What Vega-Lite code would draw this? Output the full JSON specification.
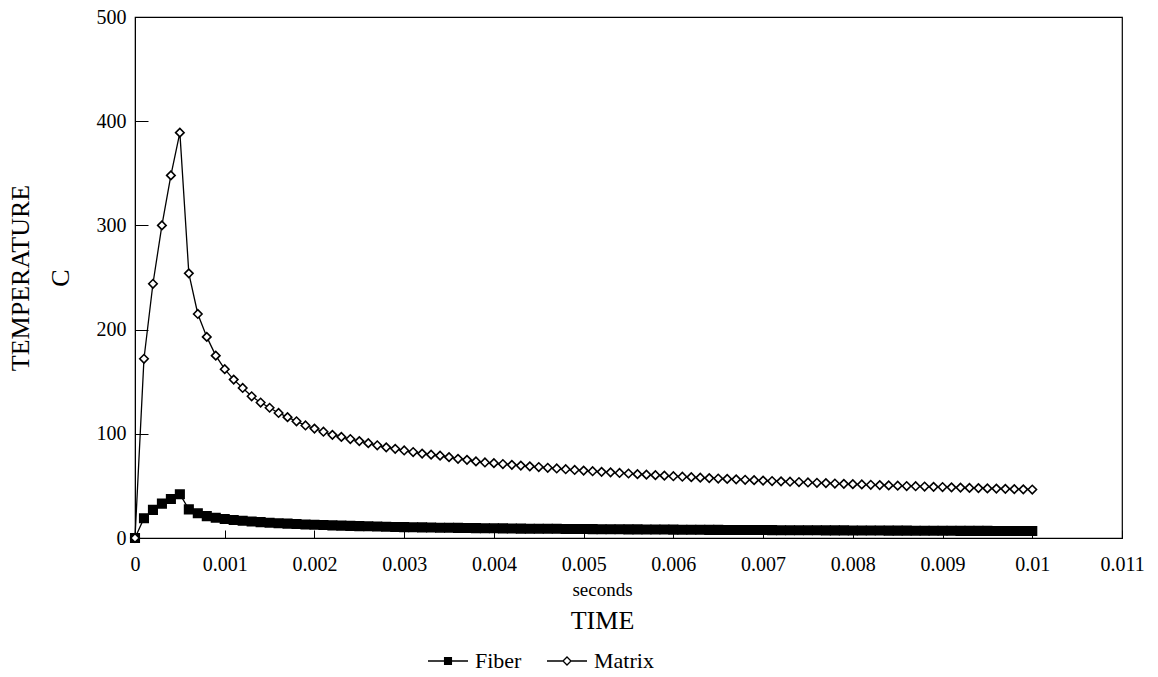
{
  "$schema": "https://vega.github.io/schema/vega-lite/v6.json",
  "width": 987,
  "height": 521,
  "autosize": {"type": "none"},
  "padding": {"left": 135, "top": 17, "right": 36, "bottom": 139},
  "background": "white",
  "config": {
    "view": {"stroke": "black", "strokeWidth": 1.2},
    "font": "Liberation Serif",
    "axis": {
      "labelFont": "Liberation Serif", "titleFont": "Liberation Serif",
      "labelColor": "black", "titleColor": "black",
      "domainColor": "black", "tickColor": "black",
      "titleFontWeight": "normal", "grid": false
    }
  },
  "data": {"values": [
    {"t":0,"Fiber":0,"Matrix":0},
    {"t":0.0001,"Fiber":19,"Matrix":172},
    {"t":0.0002,"Fiber":27,"Matrix":244},
    {"t":0.0003,"Fiber":33,"Matrix":300},
    {"t":0.0004,"Fiber":37.5,"Matrix":348},
    {"t":0.0005,"Fiber":42,"Matrix":389},
    {"t":0.0006,"Fiber":27.5,"Matrix":254},
    {"t":0.0007,"Fiber":23.7,"Matrix":215},
    {"t":0.0008,"Fiber":21,"Matrix":193},
    {"t":0.0009,"Fiber":19.5,"Matrix":175},
    {"t":0.001,"Fiber":18.3,"Matrix":162},
    {"t":0.0011,"Fiber":17.3,"Matrix":152},
    {"t":0.0012,"Fiber":16.5,"Matrix":144},
    {"t":0.0013,"Fiber":15.8,"Matrix":136},
    {"t":0.0014,"Fiber":15.2,"Matrix":130},
    {"t":0.0015,"Fiber":14.7,"Matrix":125},
    {"t":0.0016,"Fiber":14.2,"Matrix":120},
    {"t":0.0017,"Fiber":13.8,"Matrix":116},
    {"t":0.0018,"Fiber":13.4,"Matrix":112},
    {"t":0.0019,"Fiber":13.0,"Matrix":108},
    {"t":0.002,"Fiber":12.7,"Matrix":105},
    {"t":0.0021,"Fiber":12.4,"Matrix":102},
    {"t":0.0022,"Fiber":12.1,"Matrix":99},
    {"t":0.0023,"Fiber":11.9,"Matrix":97},
    {"t":0.0024,"Fiber":11.6,"Matrix":95},
    {"t":0.0025,"Fiber":11.4,"Matrix":93},
    {"t":0.0026,"Fiber":11.2,"Matrix":91},
    {"t":0.0027,"Fiber":11.0,"Matrix":89},
    {"t":0.0028,"Fiber":10.8,"Matrix":87},
    {"t":0.0029,"Fiber":10.6,"Matrix":85.6},
    {"t":0.003,"Fiber":10.4,"Matrix":84},
    {"t":0.0031,"Fiber":10.3,"Matrix":82.5},
    {"t":0.0032,"Fiber":10.2,"Matrix":81},
    {"t":0.0033,"Fiber":10.0,"Matrix":80},
    {"t":0.0034,"Fiber":9.9,"Matrix":79},
    {"t":0.0035,"Fiber":9.8,"Matrix":77.6},
    {"t":0.0036,"Fiber":9.7,"Matrix":76},
    {"t":0.0037,"Fiber":9.6,"Matrix":75},
    {"t":0.0038,"Fiber":9.5,"Matrix":73.5},
    {"t":0.0039,"Fiber":9.4,"Matrix":72.5},
    {"t":0.004,"Fiber":9.3,"Matrix":71.8},
    {"t":0.0041,"Fiber":9.2,"Matrix":71},
    {"t":0.0042,"Fiber":9.1,"Matrix":70.2},
    {"t":0.0043,"Fiber":9.0,"Matrix":69.5},
    {"t":0.0044,"Fiber":8.95,"Matrix":68.8},
    {"t":0.0045,"Fiber":8.9,"Matrix":68.1},
    {"t":0.0046,"Fiber":8.85,"Matrix":67.4},
    {"t":0.0047,"Fiber":8.8,"Matrix":66.7},
    {"t":0.0048,"Fiber":8.7,"Matrix":66},
    {"t":0.0049,"Fiber":8.65,"Matrix":65.3},
    {"t":0.005,"Fiber":8.6,"Matrix":64.7},
    {"t":0.0051,"Fiber":8.5,"Matrix":64.1},
    {"t":0.0052,"Fiber":8.45,"Matrix":63.5},
    {"t":0.0053,"Fiber":8.4,"Matrix":63},
    {"t":0.0054,"Fiber":8.35,"Matrix":62.4},
    {"t":0.0055,"Fiber":8.3,"Matrix":61.9},
    {"t":0.0056,"Fiber":8.25,"Matrix":61.3},
    {"t":0.0057,"Fiber":8.2,"Matrix":60.8},
    {"t":0.0058,"Fiber":8.15,"Matrix":60.3},
    {"t":0.0059,"Fiber":8.1,"Matrix":59.8},
    {"t":0.006,"Fiber":8.0,"Matrix":59.3},
    {"t":0.0061,"Fiber":7.95,"Matrix":58.8},
    {"t":0.0062,"Fiber":7.9,"Matrix":58.4},
    {"t":0.0063,"Fiber":7.85,"Matrix":57.9},
    {"t":0.0064,"Fiber":7.8,"Matrix":57.5},
    {"t":0.0065,"Fiber":7.8,"Matrix":57.1},
    {"t":0.0066,"Fiber":7.75,"Matrix":56.7},
    {"t":0.0067,"Fiber":7.7,"Matrix":56.3},
    {"t":0.0068,"Fiber":7.65,"Matrix":55.9},
    {"t":0.0069,"Fiber":7.6,"Matrix":55.5},
    {"t":0.007,"Fiber":7.6,"Matrix":55.1},
    {"t":0.0071,"Fiber":7.55,"Matrix":54.7},
    {"t":0.0072,"Fiber":7.5,"Matrix":54.4},
    {"t":0.0073,"Fiber":7.5,"Matrix":54},
    {"t":0.0074,"Fiber":7.45,"Matrix":53.7},
    {"t":0.0075,"Fiber":7.4,"Matrix":53.3},
    {"t":0.0076,"Fiber":7.4,"Matrix":53},
    {"t":0.0077,"Fiber":7.35,"Matrix":52.7},
    {"t":0.0078,"Fiber":7.3,"Matrix":52.3},
    {"t":0.0079,"Fiber":7.3,"Matrix":52},
    {"t":0.008,"Fiber":7.25,"Matrix":51.7},
    {"t":0.0081,"Fiber":7.2,"Matrix":51.4},
    {"t":0.0082,"Fiber":7.2,"Matrix":51.1},
    {"t":0.0083,"Fiber":7.15,"Matrix":50.8},
    {"t":0.0084,"Fiber":7.1,"Matrix":50.5},
    {"t":0.0085,"Fiber":7.1,"Matrix":50.2},
    {"t":0.0086,"Fiber":7.05,"Matrix":49.9},
    {"t":0.0087,"Fiber":7.0,"Matrix":49.7},
    {"t":0.0088,"Fiber":7.0,"Matrix":49.4},
    {"t":0.0089,"Fiber":6.95,"Matrix":49.1},
    {"t":0.009,"Fiber":6.9,"Matrix":48.9},
    {"t":0.0091,"Fiber":6.9,"Matrix":48.6},
    {"t":0.0092,"Fiber":6.85,"Matrix":48.4},
    {"t":0.0093,"Fiber":6.85,"Matrix":48.1},
    {"t":0.0094,"Fiber":6.8,"Matrix":47.9},
    {"t":0.0095,"Fiber":6.8,"Matrix":47.6},
    {"t":0.0096,"Fiber":6.75,"Matrix":47.4},
    {"t":0.0097,"Fiber":6.75,"Matrix":47.2},
    {"t":0.0098,"Fiber":6.7,"Matrix":46.9},
    {"t":0.0099,"Fiber":6.7,"Matrix":46.7},
    {"t":0.01,"Fiber":6.65,"Matrix":46.5}
  ]},
  "transform": [{"fold": ["Fiber", "Matrix"], "as": ["series", "temp"]}],
  "resolve": {"scale": {"shape": "independent", "fill": "independent", "stroke": "independent"}, "axis": {"x": "independent"}},
  "layer": [
    {
      "mark": {"type": "line", "stroke": "black", "strokeWidth": 1.3},
      "encoding": {
        "x": {"field": "t", "type": "quantitative",
              "scale": {"domain": [0, 0.011], "nice": false, "zero": false},
              "axis": {"orient": "bottom", "values": [0,0.001,0.002,0.003,0.004,0.005,0.006,0.007,0.008,0.009,0.01,0.011],
                       "format": ".3~f", "labelFontSize": 20, "tickSize": -8, "labelPadding": 24,
                       "labelFlush": false, "labelOverlap": false,
                       "title": "seconds", "titleFontSize": 19, "titlePadding": 6, "titleX": 467}},
        "y": {"field": "temp", "type": "quantitative",
              "scale": {"domain": [0, 500], "nice": false},
              "axis": {"values": [0,100,200,300,400,500], "labelFontSize": 20, "tickSize": -13,
                       "labelPadding": 22, "labelFlush": false,
                       "title": ["TEMPERATURE", "C"], "titleFontSize": 26, "titleLineHeight": 40,
                       "titlePadding": 23}},
        "detail": {"field": "series"}
      }
    },
    {
      "mark": {"type": "point", "stroke": "black", "strokeWidth": 1.6, "size": 72, "opacity": 1},
      "encoding": {
        "x": {"field": "t", "type": "quantitative",
              "axis": {"orient": "bottom", "labels": false, "ticks": false, "domain": false, "title": "TIME",
                       "titleFontSize": 26, "titlePadding": 69, "titleX": 467}},
        "y": {"field": "temp", "type": "quantitative"},
        "shape": {"field": "series", "type": "nominal",
                  "scale": {"domain": ["Fiber", "Matrix"], "range": ["square", "diamond"]}, "legend": null},
        "fill": {"field": "series", "type": "nominal",
                 "scale": {"domain": ["Fiber", "Matrix"], "range": ["black", "white"]}, "legend": null}
      }
    },
    {
      "transform": [{"filter": "datum.t < 0"}],
      "mark": {"type": "point", "strokeWidth": 1.3, "opacity": 1},
      "encoding": {
        "x": {"field": "t", "type": "quantitative", "axis": null},
        "y": {"field": "temp", "type": "quantitative"},
        "shape": {"field": "series", "type": "nominal",
                  "scale": {"domain": ["Fiber", "Matrix"],
                            "range": ["M-1,0L1,0M-0.17,-0.17L0.17,-0.17L0.17,0.17L-0.17,0.17Z",
                                      "M-1,0L-0.2,0M0.2,0L1,0M-0.2,0L0,-0.2L0.2,0L0,0.2Z"]},
                  "legend": {"title": null, "orient": "none", "direction": "horizontal",
                             "legendX": 292, "legendY": 623, "symbolSize": 1600,
                             "symbolStrokeWidth": 1.3, "symbolOpacity": 1,
                             "labelFont": "Liberation Serif", "labelFontSize": 22, "labelColor": "black",
                             "labelOffset": 6, "columnPadding": 22}},
        "fill": {"field": "series", "type": "nominal",
                 "scale": {"domain": ["Fiber", "Matrix"], "range": ["black", "white"]},
                 "legend": {"title": null, "orient": "none", "direction": "horizontal",
                            "legendX": 292, "legendY": 623, "symbolSize": 1600,
                            "symbolStrokeWidth": 1.3, "symbolOpacity": 1,
                            "labelFont": "Liberation Serif", "labelFontSize": 22, "labelColor": "black",
                            "labelOffset": 6, "columnPadding": 22}},
        "stroke": {"field": "series", "type": "nominal",
                   "scale": {"domain": ["Fiber", "Matrix"], "range": ["black", "black"]},
                   "legend": {"title": null, "orient": "none", "direction": "horizontal",
                              "legendX": 292, "legendY": 623, "symbolSize": 1600,
                              "symbolStrokeWidth": 1.3, "symbolOpacity": 1,
                              "labelFont": "Liberation Serif", "labelFontSize": 22, "labelColor": "black",
                              "labelOffset": 6, "columnPadding": 22}}
      }
    }
  ]
}
